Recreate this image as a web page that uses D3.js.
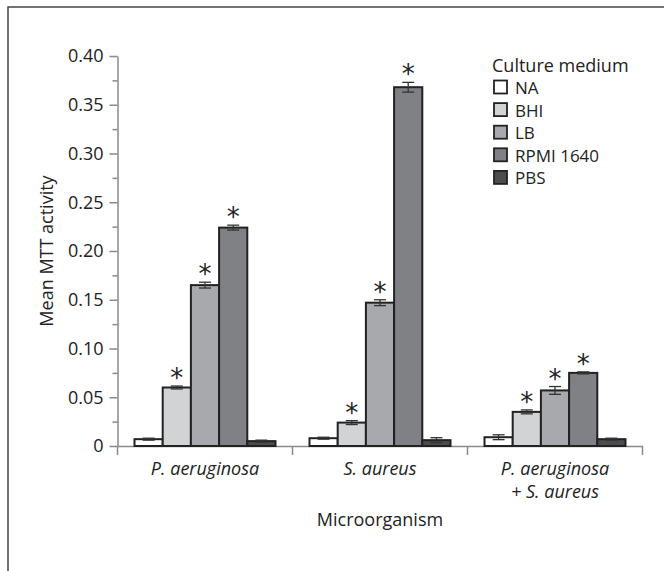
<!DOCTYPE html>
<html>
<head>
<meta charset="utf-8">
<script src="https://cdn.jsdelivr.net/npm/d3@7"></script>
<style>
  html, body { margin: 0; padding: 0; background: #fff; }
  svg { display: block; }
  text { font-family: "Open Sans", sans-serif; fill: #222; }
</style>
</head>
<body>
<svg id="chart" width="664" height="571"></svg>
<script>
// ---- data ----
const categories = ["P. aeruginosa", "S. aureus", "P. aeruginosa + S. aureus"];
const media = ["NA", "BHI", "LB", "RPMI 1640", "PBS"];
const valuesNA   = [0.007, 0.008, 0.009];
const valuesBHI  = [0.060, 0.024, 0.035];
const valuesLB   = [0.165, 0.147, 0.057];
const valuesRPMI = [0.224, 0.368, 0.075];
const valuesPBS  = [0.005, 0.006, 0.007];
const errNA   = [0.001, 0.001, 0.0025];
const errBHI  = [0.0015, 0.002, 0.002];
const errLB   = [0.003, 0.003, 0.004];
const errRPMI = [0.0025, 0.005, 0.001];
const errPBS  = [0.001, 0.0025, 0.001];
const significant = [false, true, true, true, false];
const yTicks = [0, 0.05, 0.10, 0.15, 0.20, 0.25, 0.30, 0.35, 0.40];
const yMinorTicks = [0.025, 0.075, 0.125, 0.175, 0.225, 0.275, 0.325, 0.375];
const colors = ["#ffffff", "#d2d3d5", "#a8a9ac", "#808185", "#4c4c4e"];

const seriesValues = [valuesNA, valuesBHI, valuesLB, valuesRPMI, valuesPBS];
const seriesErrors = [errNA, errBHI, errLB, errRPMI, errPBS];

const rows = [];
media.forEach((m, mi) => {
  categories.forEach((c, ci) => {
    rows.push({ cat: c, medium: m, mi, v: seriesValues[mi][ci], e: seriesErrors[mi][ci], sig: significant[mi] });
  });
});

const svg = d3.select("#chart");

// frame
svg.append("rect").attr("x", 8).attr("y", 7).attr("width", 800).attr("height", 800)
  .attr("fill", "none").attr("stroke", "#444").attr("stroke-width", 1.5);

const pL = 117.5, pR = 642.5, pT = 56, pB = 446;
const x0 = d3.scaleBand().domain(categories).range([pL, pR]).padding(0);
const x1 = d3.scaleBand().domain(media).range([17, x0.bandwidth() - 17]).padding(0);
const y = d3.scaleLinear().domain([0, 0.40]).range([pB, pT]);
const color = d3.scaleOrdinal().domain(media).range(colors);

const axisColor = "#8a8a8a";

// y axis
const yAxis = svg.append("g").attr("transform", `translate(${pL},0)`)
  .call(d3.axisLeft(y).tickValues(yTicks).tickSize(8).tickSizeOuter(0).tickPadding(6)
    .tickFormat(d => d === 0 ? "0" : d3.format(".2f")(d)));
yAxis.selectAll("text").style("font-size", "18px").style("font-family", '"Open Sans", sans-serif').attr("fill", "#222");
yAxis.selectAll("line").attr("stroke", axisColor).attr("stroke-width", 1.5);
yAxis.select(".domain").attr("stroke", axisColor).attr("stroke-width", 1.5);

const yMinor = svg.append("g").attr("transform", `translate(${pL},0)`)
  .call(d3.axisLeft(y).tickValues(yMinorTicks).tickSize(5).tickSizeOuter(0).tickFormat(""));
yMinor.selectAll("line").attr("stroke", axisColor).attr("stroke-width", 1.5);
yMinor.select(".domain").remove();

// x axis
const xAxis = svg.append("g").attr("transform", `translate(0,${pB})`)
  .call(d3.axisBottom(x0).tickSize(0).tickSizeOuter(0).tickFormat(""));
xAxis.select(".domain").attr("stroke", axisColor).attr("stroke-width", 1.5);
const bounds = [x0(categories[0])].concat(categories.map(c => x0(c) + x0.bandwidth()));
svg.append("g").selectAll("line").data(bounds).join("line")
  .attr("x1", d => d).attr("x2", d => d).attr("y1", pB).attr("y2", pB + 9)
  .attr("stroke", axisColor).attr("stroke-width", 1.5);

// x labels
categories.forEach(c => {
  const parts = c.split(" + ");
  const t = svg.append("text").attr("text-anchor", "middle")
    .attr("font-style", "italic").style("font-size", "18px")
    .attr("x", x0(c) + x0.bandwidth() / 2).attr("y", 475);
  parts.forEach((p, i) => {
    t.append("tspan").attr("x", x0(c) + x0.bandwidth() / 2).attr("y", 475 + i * 22.7)
      .text(i === 0 ? p : "+ " + p);
  });
});

svg.append("text").attr("text-anchor", "middle").style("font-size", "18px")
  .attr("x", (pL + pR) / 2).attr("y", 526).text("Microorganism");

svg.append("text").attr("text-anchor", "middle").style("font-size", "18px")
  .attr("transform", `translate(53,${(pT + pB) / 2}) rotate(-90)`).text("Mean MTT activity");

// bars
const bars = svg.append("g");
bars.selectAll("rect").data(rows).join("rect")
  .attr("x", d => x0(d.cat) + x1(d.medium))
  .attr("width", x1.bandwidth())
  .attr("y", d => y(d.v))
  .attr("height", d => y(0) - y(d.v))
  .attr("fill", d => color(d.medium))
  .attr("stroke", "#222").attr("stroke-width", 2);

// error bars
const eb = svg.append("g").attr("stroke", "#333").attr("stroke-width", 1.3);
rows.forEach(d => {
  const cx = x0(d.cat) + x1(d.medium) + x1.bandwidth() / 2;
  eb.append("line").attr("x1", cx).attr("x2", cx).attr("y1", y(d.v + d.e)).attr("y2", y(d.v - d.e));
  eb.append("line").attr("x1", cx - 6).attr("x2", cx + 6).attr("y1", y(d.v + d.e)).attr("y2", y(d.v + d.e));
  eb.append("line").attr("x1", cx - 6).attr("x2", cx + 6).attr("y1", y(d.v - d.e)).attr("y2", y(d.v - d.e));
});

// significance asterisks
svg.append("g").selectAll("text").data(rows.filter(d => d.sig)).join("text")
  .attr("text-anchor", "middle")
  .style("font-family", '"DejaVu Sans", sans-serif').style("font-size", "26px")
  .attr("x", d => x0(d.cat) + x1(d.medium) + x1.bandwidth() / 2)
  .attr("y", d => y(d.v + d.e) + 1)
  .text("*");

// legend
const lg = svg.append("g");
lg.append("text").attr("x", 492).attr("y", 72).style("font-size", "18px").text("Culture medium");
media.forEach((m, i) => {
  const yy = 80 + i * 22.6;
  lg.append("rect").attr("x", 494).attr("y", yy + 0.5).attr("width", 13).attr("height", 13)
    .attr("fill", color(m)).attr("stroke", "#222").attr("stroke-width", 1.8);
  lg.append("text").attr("x", 515).attr("y", yy + 14).style("font-size", "17px").text(m);
});
</script>
</body>
</html>
